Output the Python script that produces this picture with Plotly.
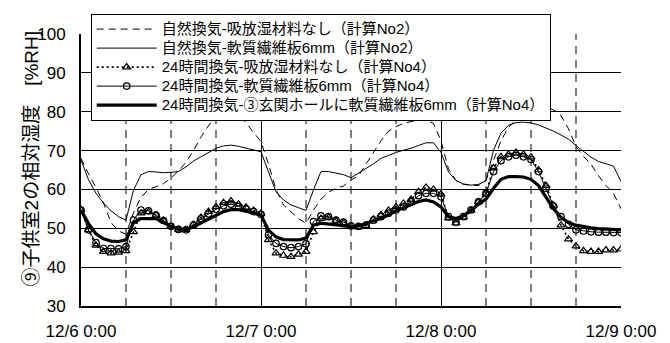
import plotly.graph_objects as go

# Elapsed time in hours from 12/6 0:00 (hourly calculation steps)
hours = list(range(73))

tick_hours = [0, 24, 48, 72]
tick_labels = ["12/6 0:00", "12/7 0:00", "12/8 0:00", "12/9 0:00"]
# 6-hour guide lines between the day boundaries
guide_hours = [6, 12, 18, 30, 36, 42, 54, 60, 66]

# 自然換気-吸放湿材料なし(計算No2)
natural_none = [68.0, 64.0, 60.5, 56.5, 51.5, 49.3, 48.5, 54.0, 58.0, 60.0,
                60.7, 61.5, 62.9, 64.8, 67.0, 70.0, 73.5, 76.5, 79.2, 81.0,
                81.2, 79.5, 77.0, 74.5, 72.3, 66.5, 60.0, 56.0, 54.2, 52.5,
                51.3, 54.7, 57.5, 59.3, 60.3, 60.9, 62.4, 63.5, 66.5, 69.5,
                72.5, 75.0, 76.2, 77.0, 77.5, 77.9, 77.8, 77.0, 72.5, 65.3,
                62.3, 61.3, 61.1, 61.0, 62.4, 67.6, 72.5, 76.0, 77.9, 79.5,
                80.5, 81.0, 81.2, 80.5, 79.0, 75.6, 71.0, 68.5, 66.5, 63.5,
                61.0, 59.0, 55.0]

# 自然換気-軟質繊維板6mm(計算No2)
natural_board = [67.6, 62.5, 59.0, 56.5, 54.5, 53.0, 52.1, 59.8, 63.8, 64.6,
                 64.5, 64.3, 64.4, 64.6, 65.8, 67.3, 68.4, 69.5, 70.6, 71.2,
                 71.4, 71.1, 70.6, 70.1, 69.7, 64.5, 59.4, 57.3, 56.0, 55.3,
                 54.6, 59.9, 64.6, 64.6, 64.2, 63.8, 63.0, 64.2, 65.3, 66.6,
                 68.0, 68.8, 69.5, 70.1, 70.6, 71.3, 72.0, 72.0, 69.5, 64.5,
                 62.3, 61.4, 61.1, 61.3, 62.2, 70.1, 74.5, 76.5, 77.2, 77.3,
                 77.1, 76.6, 75.9, 75.0, 74.0, 72.9, 71.3, 69.7, 68.3, 67.2,
                 66.5, 66.0, 62.0]

# 24時間換気-吸放湿材料なし(計算No4)
vent24_none = [54.7, 49.6, 45.6, 44.0, 43.6, 43.8, 44.2, 49.1, 53.9, 54.2,
               53.4, 52.0, 50.5, 49.7, 49.6, 51.0, 52.8, 54.3, 55.5, 56.6,
               57.0, 56.2, 55.4, 54.6, 53.8, 47.0, 43.6, 43.0, 42.7, 43.3,
               44.0, 49.1, 52.5, 52.8, 52.0, 51.4, 50.4, 50.3, 50.7, 52.3,
               53.5, 54.6, 55.5, 56.4, 57.4, 59.4, 60.5, 60.0, 58.8, 52.6,
               51.3, 52.8, 54.6, 56.8, 59.0, 65.5, 68.4, 69.0, 69.5, 69.0,
               68.3, 65.0, 61.0, 55.9, 50.8, 47.2, 45.4, 44.2, 44.0, 44.0,
               44.4, 44.4, 44.6]

# 24時間換気-軟質繊維板6mm(計算No4)
vent24_board = [54.7, 49.6, 46.3, 44.8, 44.8, 44.7, 45.3, 52.1, 54.7, 54.5,
                53.4, 52.0, 50.5, 49.7, 49.6, 50.8, 52.4, 53.7, 54.9, 55.8,
                56.2, 55.6, 55.0, 54.3, 53.6, 48.3, 46.1, 45.3, 45.0, 45.3,
                46.0, 51.7, 53.2, 53.0, 52.1, 51.6, 50.6, 50.5, 50.8, 52.1,
                53.0, 53.9, 54.7, 55.5, 56.8, 58.4, 59.0, 59.0, 58.1, 53.0,
                51.6, 53.0, 54.7, 56.8, 59.0, 64.6, 67.4, 68.4, 68.8, 68.4,
                67.7, 64.6, 60.3, 55.7, 53.0, 51.0, 49.6, 49.3, 49.1, 49.0,
                49.0, 48.9, 48.9]

# 24時間換気-③玄関ホールに軟質繊維板6mm(計算No4)
vent24_hall = [54.7, 51.2, 48.6, 47.3, 46.7, 46.6, 47.0, 51.5, 52.5, 52.6,
               52.5, 51.5, 50.5, 49.8, 49.6, 50.4, 51.4, 52.4, 53.4, 54.3,
               54.8, 54.8, 54.4, 54.0, 53.4, 49.5, 47.8, 47.1, 47.0, 47.0,
               47.5, 50.8, 51.3, 51.2, 50.9, 50.6, 50.4, 50.6, 51.2, 51.8,
               52.6, 53.4, 54.5, 55.3, 56.0, 56.9, 57.3, 56.8, 55.5, 53.0,
               52.5, 53.2, 54.6, 56.2, 57.5, 60.3, 62.6, 63.3, 63.3, 63.2,
               62.6, 61.0, 58.0, 55.0, 52.8, 51.5, 50.8, 50.4, 50.1, 49.9,
               49.8, 49.7, 49.6]

series_names = [
    "自然換気-吸放湿材料なし（計算No2）",
    "自然換気-軟質繊維板6mm（計算No2）",
    "24時間換気-吸放湿材料なし（計算No4）",
    "24時間換気-軟質繊維板6mm（計算No4）",
    "24時間換気-③玄関ホールに軟質繊維板6mm（計算No4）",
]

y_title = "⑨子供室2の相対湿度　[%RH]"

FONT = "Liberation Sans, Noto Sans CJK JP, sans-serif"


def legend_label(text):
    # legend rows stay compact while the label text is drawn larger
    return '<span style="font-size:15px">' + text + "</span>"


fig = go.Figure()

fig.add_trace(go.Scatter(
    x=hours, y=natural_none, name=legend_label(series_names[0]), mode="lines",
    line=dict(color="black", width=1, dash="7px,5px"),
))
fig.add_trace(go.Scatter(
    x=hours, y=natural_board, name=legend_label(series_names[1]), mode="lines",
    line=dict(color="black", width=1),
))
fig.add_trace(go.Scatter(
    x=hours, y=vent24_none, name=legend_label(series_names[2]), mode="lines+markers",
    line=dict(color="black", width=1.6, dash="2px,3px"),
    marker=dict(symbol="triangle-up-open", size=7, color="black",
                line=dict(width=1.2, color="black")),
))
fig.add_trace(go.Scatter(
    x=hours, y=vent24_board, name=legend_label(series_names[3]), mode="lines+markers",
    line=dict(color="black", width=1),
    marker=dict(symbol="circle-open", size=6.5, color="black",
                line=dict(width=1.2, color="black")),
))
fig.add_trace(go.Scatter(
    x=hours, y=vent24_hall, name=legend_label(series_names[4]), mode="lines",
    line=dict(color="black", width=3.2),
))

# dashed vertical guides every 6 hours
for h in guide_hours:
    fig.add_shape(type="line", xref="x", yref="paper", x0=h, x1=h, y0=0, y1=1,
                  line=dict(color="black", width=1, dash="8px,6px"),
                  layer="below")

# rotated y-axis title placed left of the tick labels
fig.add_annotation(
    text=y_title, textangle=-90,
    xref="paper", yref="paper", x=-0.092, y=0.54,
    xanchor="center", yanchor="middle", showarrow=False,
    font=dict(family=FONT, size=19, color="black"),
)

fig.update_layout(
    width=670, height=343,
    margin=dict(l=81, r=49, t=34, b=37),
    paper_bgcolor="white", plot_bgcolor="white",
    font=dict(family=FONT, color="black", size=15),
    showlegend=True,
    legend=dict(
        x=0.018, y=1.075, xanchor="left", yanchor="top",
        bgcolor="white", bordercolor="black", borderwidth=1,
        font=dict(family=FONT, size=12, color="black"),
        itemwidth=60, tracegroupgap=0,
    ),
    xaxis=dict(
        range=[0, 72], automargin=False,
        tickmode="array", tickvals=tick_hours, ticktext=tick_labels,
        tickfont=dict(size=17),
        ticks="", ticklabelstandoff=9,
        showgrid=True, gridcolor="black", gridwidth=1,
        showline=True, linecolor="black", linewidth=2,
        zeroline=False,
    ),
    yaxis=dict(
        range=[30, 100], automargin=False,
        tickmode="linear", tick0=30, dtick=10,
        tickfont=dict(size=17),
        ticks="", ticklabelstandoff=10,
        showgrid=True, gridcolor="black", gridwidth=1,
        showline=True, linecolor="black", linewidth=2,
        zeroline=False,
    ),
)

fig.write_html("out.html")
